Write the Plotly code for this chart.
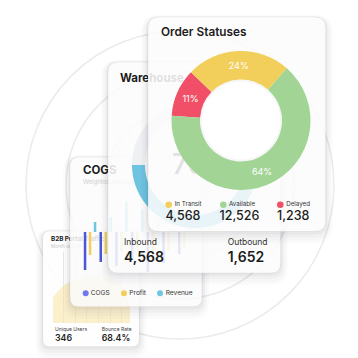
import numpy as np
import plotly.graph_objects as go

W = H = 358
FONT = "Inter"
DARK = "#1c1c1c"

# ---------------- data ----------------
status_labels = ["Delayed", "In Transit", "Available"]
status_pct = [11, 24, 64]
status_colors = ["#F04F67", "#F2CF5B", "#A1D495"]
legend_labels = ["In Transit", "Available", "Delayed"]
legend_counts = ["4,568", "12,526", "1,238"]
legend_colors = ["#F2CF5B", "#A1D495", "#F04F67"]

cogs_months = ["Jan", "Feb", "Mar", "Apr", "May", "Jun", "Jul"]
cogs_vals = [-38, -30, -34, -26, -40, -31, -22]
profit_vals = [-23, -22, -20, -16, -27, -18, -15]
revenue_vals = [10, 15, 30, 22, 14, 26, 18]
cogs_legend = ["COGS", "Profit", "Revenue"]
cogs_legend_colors = ["#6F7AF0", "#F2CF5B", "#6EC6E3"]

traffic_x = [0, 1, 2, 3, 4, 5, 6, 7]
traffic_vals = [24, 37, 43, 45, 46, 45, 38, 8]

warehouse_pct = 76
warehouse_labels = ["Inbound", "Outbound"]
warehouse_values = ["4,568", "1,652"]
b2b_labels = ["Unique Users", "Bounce Rate"]
b2b_values = ["346", "68.4%"]


# ---------------- helpers ----------------
def rr(x0, y0, x1, y1, r):
    return (f"M{x0+r},{y0} L{x1-r},{y0} Q{x1},{y0} {x1},{y0+r} "
            f"L{x1},{y1-r} Q{x1},{y1} {x1-r},{y1} L{x0+r},{y1} "
            f"Q{x0},{y1} {x0},{y1-r} L{x0},{y0+r} Q{x0},{y0} {x0+r},{y0} Z")


def card(sp, x0, y0, x1, y1, r=10, alpha=0.86):
    out = []
    for s, dy, a in [(7, 5, 0.018), (5, 4, 0.022), (3, 3, 0.03), (1.5, 1.5, 0.04)]:
        out.append(dict(type="path", path=rr(x0 - s, y0 - s + dy, x1 + s, y1 + s + dy, r + s),
                        xref="x" + sp, yref="y" + sp, fillcolor=f"rgba(60,60,70,{a})",
                        line=dict(width=0), layer="below"))
    out.append(dict(type="path", path=rr(x0, y0, x1, y1, r), xref="x" + sp, yref="y" + sp,
                    fillcolor=f"rgba(255,255,255,{alpha})",
                    line=dict(color="rgba(0,0,0,0.06)", width=1), layer="below"))
    return out


def dot(sp, x, y, color, r=3.2):
    return dict(type="circle", x0=x - r, x1=x + r, y0=y - r, y1=y + r, xref="x" + sp, yref="y" + sp,
                fillcolor=color, line=dict(width=0), layer="below")


def text_trace(sp, xs, ys, texts, size, color, weight=400):
    return go.Scatter(x=xs, y=ys, text=texts, mode="text", textposition="middle right",
                      textfont=dict(family=FONT, size=size, color=color, weight=weight),
                      xaxis="x" + sp, yaxis="y" + sp, hoverinfo="skip", showlegend=False)


def ring_path(cx, cy, r0, r1, a0, a1, n=80):
    t = np.radians(np.linspace(a0, a1, n))
    xo, yo = cx + r1 * np.sin(t), cy - r1 * np.cos(t)
    xi, yi = cx + r0 * np.sin(t[::-1]), cy - r0 * np.cos(t[::-1])
    pts = list(zip(np.concatenate([xo, xi]), np.concatenate([yo, yi])))
    return "M" + " L".join(f"{x:.2f},{y:.2f}" for x, y in pts) + " Z"


fig = go.Figure()
shapes = []

# ---------- subplot 1: background circles + B2B card ----------
for R in [154, 114, 75]:
    shapes.append(dict(type="circle", x0=180 - R, x1=180 + R, y0=185 - R, y1=185 + R, xref="x", yref="y",
                       line=dict(color="#EBEBEB", width=1.5), fillcolor="rgba(0,0,0,0)", layer="below"))
shapes += card("", 42.7, 231, 139.3, 346.7, r=7, alpha=0.92)
fig.add_trace(text_trace("", [51], [239.5], ["B2B Portal Traffic"], 6.3, "#222", 700))
fig.add_trace(text_trace("", [51], [247], ["Month to Date"], 4.6, "#C8C8C8"))
fig.add_trace(text_trace("", [55, 101.7], [329.3, 329.3], b2b_labels, 5.0, "#444"))
fig.add_trace(text_trace("", [55, 101.7], [338.8, 338.8], b2b_values, 8.8, DARK, 600))

# ---------- subplot 2: B2B area ----------
fig.add_trace(go.Scatter(x=traffic_x, y=traffic_vals, mode="lines", line=dict(width=0, shape="spline"),
                         fill="tozeroy", fillcolor="rgba(248,228,160,0.55)", xaxis="x2", yaxis="y2",
                         hoverinfo="skip", showlegend=False))

# ---------- subplot 3: COGS card ----------
shapes += card("3", 70, 157, 202, 306.7, r=9, alpha=0.84)
fig.add_trace(text_trace("3", [83], [171.5], ["COGS"], 11.5, DARK, 700))
fig.add_trace(text_trace("3", [83], [182], ["Weighted Average"], 6.0, "#CFCFCF"))
for x, c in zip([85.7, 124, 160], cogs_legend_colors):
    shapes.append(dot("3", x, 293.3, c, 3))
fig.add_trace(text_trace("3", [90.7, 129.3, 165.7], [293.5] * 3, cogs_legend, 6.6, "#333"))

# ---------- subplot 4: COGS bars ----------
for name, vals, col in [("COGS", cogs_vals, "#4A55D8"), ("Profit", profit_vals, "#F2CF5B"),
                        ("Revenue", revenue_vals, "#6EC6E3")]:
    fig.add_trace(go.Bar(x=cogs_months, y=vals, name=name, marker=dict(color=col, line=dict(width=0)),
                         xaxis="x4", yaxis="y4", hoverinfo="skip", showlegend=False))

# ---------- subplot 5: Warehouse card ----------
shapes += card("5", 108, 62, 280.7, 273, r=10, alpha=0.86)
cx, cy = 195, 165
blue_span = 360 * warehouse_pct / 100
shapes.append(dict(type="path", path=ring_path(cx, cy, 50, 63, 270 - blue_span, 270), xref="x5", yref="y5",
                   fillcolor="#6EC3E0", line=dict(width=0), layer="below"))
shapes.append(dict(type="path", path=ring_path(cx, cy, 50, 63, 270, 360 + 270 - blue_span), xref="x5",
                   yref="y5", fillcolor="#EEF0F2", line=dict(width=0), layer="below"))
fig.add_trace(text_trace("5", [120], [79], ["Warehouse Overview"], 11.5, DARK, 700))
fig.add_trace(text_trace("5", [172], [167], [f"{warehouse_pct}%"], 28, "#2A2A2A", 500))
fig.add_trace(text_trace("5", [124, 227.7], [243, 243], warehouse_labels, 8.5, "#333"))
fig.add_trace(text_trace("5", [124, 227.7], [258, 258], warehouse_values, 14, DARK, 600))

# ---------- subplot 6: Order card ----------
shapes += card("6", 148, 17, 325.7, 231.5, r=11, alpha=0.86)
pcx, pcy, pr, hole = 241, 120.5, 69.5, 0.59
# opaque white disc behind the donut so the hole reads clean white
shapes.append(dict(type="circle", x0=pcx - pr, x1=pcx + pr, y0=pcy - pr, y1=pcy + pr, xref="x6", yref="y6",
                   fillcolor="white", line=dict(width=0), layer="below"))
shapes.append(dict(type="circle", x0=pcx - pr * hole + 1, x1=pcx + pr * hole - 1, y0=pcy - pr * hole + 1,
                   y1=pcy + pr * hole - 1, xref="x6", yref="y6", fillcolor="rgba(0,0,0,0)",
                   line=dict(width=2, color="rgba(0,0,0,0.035)"), layer="below"))
fig.add_trace(text_trace("6", [161], [33.5], ["Order Statuses"], 11.8, DARK, 600))
for x, c in zip([168.7, 223.3, 280.3], legend_colors):
    shapes.append(dot("6", x, 204.8, c, 3.3))
fig.add_trace(text_trace("6", [174.7, 229, 286.3], [204.6] * 3, legend_labels, 6.2, "#333"))
fig.add_trace(text_trace("6", [165.5, 219.5, 277], [216.6] * 3, legend_counts, 12.5, DARK, 500))

# donut (pie layer is drawn above all cartesian subplots)
fig.add_trace(go.Pie(labels=status_labels, values=status_pct, text=[f"{v}%" for v in status_pct],
                     textinfo="text", textposition="inside", insidetextorientation="horizontal",
                     textfont=dict(family=FONT, size=9, color="white"),
                     marker=dict(colors=status_colors, line=dict(width=0)),
                     hole=hole, sort=False, direction="clockwise", rotation=274,
                     domain=dict(x=[(pcx - pr) / W, (pcx + pr) / W], y=[1 - (pcy + pr) / H, 1 - (pcy - pr) / H]),
                     hoverinfo="skip", showlegend=False))

# ---------------- axes ----------------
layout = dict(width=W, height=H, margin=dict(l=0, r=0, t=0, b=0), paper_bgcolor="white",
              plot_bgcolor="rgba(0,0,0,0)", showlegend=False, shapes=shapes,
              barmode="group", bargap=0.045, bargroupgap=0.5)
pix_x = dict(domain=[0, 1], range=[0, W], visible=False, fixedrange=True)
pix_y = dict(domain=[0, 1], range=[H, 0], visible=False, fixedrange=True)
for sp in ["", "3", "5", "6"]:
    layout["xaxis" + sp] = dict(pix_x, anchor="y" + sp)
    layout["yaxis" + sp] = dict(pix_y, anchor="x" + sp)

layout["xaxis2"] = dict(domain=[53 / W, 130 / W], range=[0.11, 6.71], anchor="y2", showgrid=True,
                        gridcolor="#EAEAEA", gridwidth=1, tickvals=[1, 2, 3, 4, 5, 6], showticklabels=False,
                        ticks="", zeroline=False, showline=False, fixedrange=True)
layout["yaxis2"] = dict(domain=[1 - 323 / H, 1 - 252 / H], range=[0, 71], anchor="x2", visible=False,
                        fixedrange=True)
layout["xaxis4"] = dict(domain=[82.2 / W, 192.1 / W], range=[-0.5, 6.5], anchor="y4", visible=False,
                        fixedrange=True)
layout["yaxis4"] = dict(domain=[1 - 275 / H, 1 - 195 / H], range=[-43, 37], anchor="x4", visible=False,
                        fixedrange=True)

fig.update_layout(**layout)
fig.write_html("out.html", config={"displayModeBar": False},
               post_script="document.body.style.margin='0';document.body.style.overflow='hidden';")
